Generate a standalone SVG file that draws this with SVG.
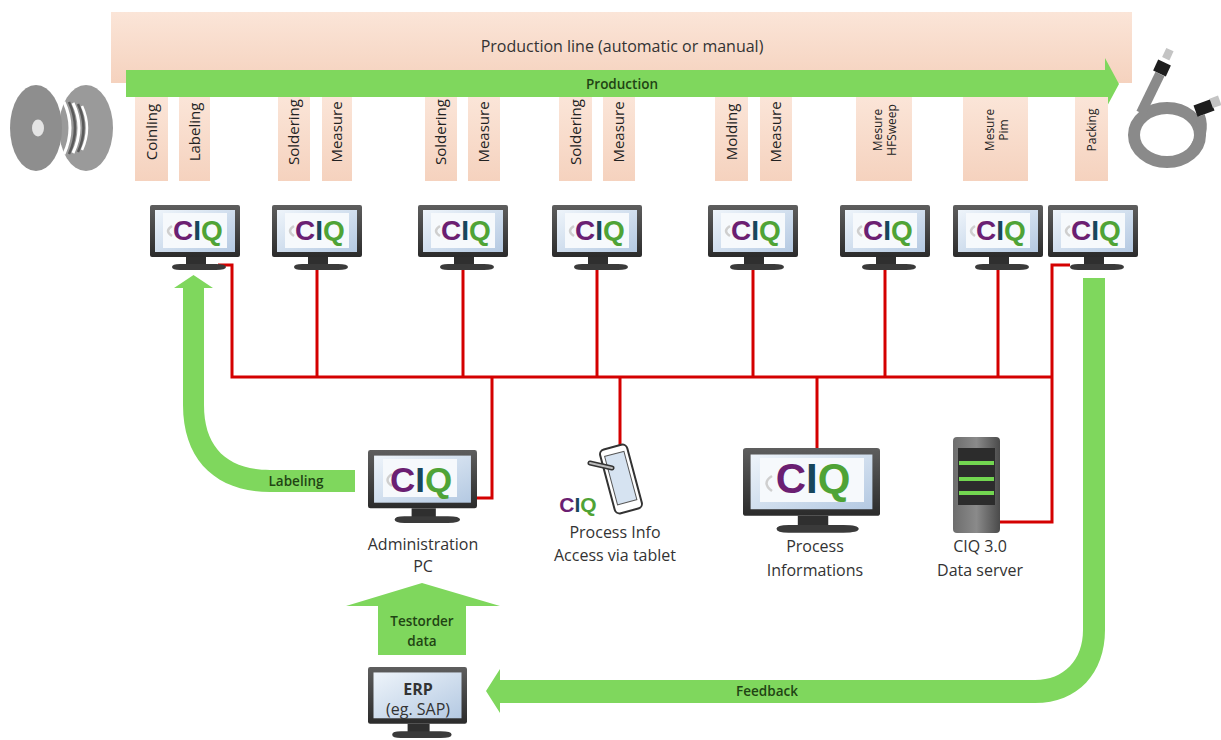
<svg xmlns="http://www.w3.org/2000/svg" xmlns:xlink="http://www.w3.org/1999/xlink" width="1221" height="740" viewBox="0 0 1221 740">
  <style>
    .lbl { font-family: "Open Sans", "Liberation Sans", sans-serif; font-size: 16px; fill: #333; text-anchor: middle; }
    .st { font-family: "Open Sans", "Liberation Sans", sans-serif; font-size: 15px; fill: #222; text-anchor: middle; }
    .st-s { font-family: "Open Sans", "Liberation Sans", sans-serif; font-size: 12px; fill: #222; text-anchor: middle; }
    .flow { font-family: "Open Sans", "Liberation Sans", sans-serif; font-size: 13.5px; font-weight: 600; fill: #1f4414; text-anchor: middle; }
    .ciq { font-family: "Liberation Sans", Arial, sans-serif; font-weight: bold; text-anchor: middle; }
    .c { fill: #6b1f72; }
    .i { fill: #17465c; }
    .q { fill: #4fa336; }
    .box { fill: url(#peachV); }
    .wire { fill: none; stroke: #d40000; stroke-width: 3; }
    .arrow { fill: #7fd75d; }
    .panel { fill: #f6f9fc; }
    .swoosh { fill: none; stroke: #cfcfcf; stroke-width: 2.5; }
  </style>
  <defs>
    <linearGradient id="peachV" x1="0" y1="0" x2="0" y2="1">
      <stop offset="0" stop-color="#fbe5d8"/>
      <stop offset="1" stop-color="#f5d2be"/>
    </linearGradient>
    <linearGradient id="frameG" x1="0" y1="0" x2="0" y2="1">
      <stop offset="0" stop-color="#5e5e5e"/>
      <stop offset="1" stop-color="#2b2b2b"/>
    </linearGradient>
    <linearGradient id="screenG" x1="0" y1="0" x2="1" y2="1">
      <stop offset="0" stop-color="#eef4fa"/>
      <stop offset="1" stop-color="#b4c9e2"/>
    </linearGradient>
    <linearGradient id="serverG" x1="0" y1="0" x2="1" y2="0">
      <stop offset="0" stop-color="#6d6d6d"/>
      <stop offset="0.5" stop-color="#8a8a8a"/>
      <stop offset="1" stop-color="#4a4a4a"/>
    </linearGradient>
    <!-- desktop monitor: bezel, screen, neck and foot -->
    <symbol id="mon" viewBox="0 0 90 66" preserveAspectRatio="none">
      <rect x="0" y="0" width="90" height="52" rx="2" fill="url(#frameG)"/>
      <rect x="5" y="5" width="80" height="42" fill="url(#screenG)"/>
      <rect x="36" y="52" width="20" height="9" fill="#2f2f2f"/>
      <path d="M22 62 Q22 59 30 59 L66 59 Q76 59 76 62 Q76 65 66 65 L30 65 Q22 65 22 62 Z" fill="#3a3a3a"/>
    </symbol>
  </defs>

  <rect width="1221" height="740" fill="#ffffff"/>

  <!-- production line band -->
  <g id="production-line">
    <rect x="111" y="12" width="1021" height="71" fill="url(#peachV)"/>
    <text class="lbl" x="622" y="52">Production line (automatic or manual)</text>
  </g>

  <!-- production flow arrow -->
  <g id="production-arrow">
    <path class="arrow" d="M126 70 L1105 70 L1105 58 L1119 84 L1105 110 L1105 97 L126 97 Z"/>
    <text class="flow" x="622" y="89" font-size="14.5">Production</text>
  </g>

  <!-- process stations -->
  <g id="stations">
    <g id="st-coinling"><rect class="box" x="135" y="97" width="33" height="84"/><text class="st" transform="translate(151.5 132) rotate(-90)" dy="5">Coinling</text></g>
    <g id="st-labeling"><rect class="box" x="179" y="97" width="31" height="84"/><text class="st" transform="translate(194.5 132) rotate(-90)" dy="5">Labeling</text></g>
    <g id="st-soldering1"><rect class="box" x="278" y="97" width="32" height="84"/><text class="st" transform="translate(294 132) rotate(-90)" dy="5">Soldering</text></g>
    <g id="st-measure1"><rect class="box" x="322" y="97" width="30" height="84"/><text class="st" transform="translate(337 132) rotate(-90)" dy="5">Measure</text></g>
    <g id="st-soldering2"><rect class="box" x="425" y="97" width="32" height="84"/><text class="st" transform="translate(441 132) rotate(-90)" dy="5">Soldering</text></g>
    <g id="st-measure2"><rect class="box" x="468" y="97" width="32" height="84"/><text class="st" transform="translate(484 132) rotate(-90)" dy="5">Measure</text></g>
    <g id="st-soldering3"><rect class="box" x="559" y="97" width="33" height="84"/><text class="st" transform="translate(575.5 132) rotate(-90)" dy="5">Soldering</text></g>
    <g id="st-measure3"><rect class="box" x="603" y="97" width="32" height="84"/><text class="st" transform="translate(619 132) rotate(-90)" dy="5">Measure</text></g>
    <g id="st-molding"><rect class="box" x="715" y="97" width="33" height="84"/><text class="st" transform="translate(731.5 132) rotate(-90)" dy="5">Molding</text></g>
    <g id="st-measure4"><rect class="box" x="760" y="97" width="32" height="84"/><text class="st" transform="translate(776 132) rotate(-90)" dy="5">Measure</text></g>
    <g id="st-hfsweep"><rect class="box" x="856" y="97" width="56" height="84"/><text class="st-s" transform="translate(884 130) rotate(-90)"><tspan x="0" dy="-2">Mesure</tspan><tspan x="0" dy="14">HFSweep</tspan></text></g>
    <g id="st-pim"><rect class="box" x="963" y="97" width="65" height="84"/><text class="st-s" transform="translate(995.5 130) rotate(-90)"><tspan x="0" dy="-2">Mesure</tspan><tspan x="0" dy="14">Pim</tspan></text></g>
    <g id="st-packing"><rect class="box" x="1075" y="97" width="33" height="84"/><text class="st-s" transform="translate(1091.5 130) rotate(-90)" dy="4">Packing</text></g>
  </g>

  <!-- cable reel (raw material) -->
  <g id="reel">
    <ellipse cx="86" cy="128" rx="27" ry="43" fill="#9a9a9a"/>
    <ellipse cx="36" cy="128" rx="26" ry="43" fill="#8e8e8e"/>
    <ellipse cx="38" cy="128" rx="6" ry="8.5" fill="#e4e4e4"/>
    <path d="M64 102 Q76 128 64 154" fill="none" stroke="#ffffff" stroke-width="3"/>
    <path d="M69 102 Q81 128 69 154" fill="none" stroke="#5a5a5a" stroke-width="2.5"/>
    <path d="M73 103 Q85 128 73 153" fill="none" stroke="#ffffff" stroke-width="3"/>
    <path d="M78 104 Q89 128 78 152" fill="none" stroke="#5a5a5a" stroke-width="2.5"/>
    <path d="M82 106 Q92 128 82 150" fill="none" stroke="#ffffff" stroke-width="2.5"/>
  </g>

  <!-- finished cable assembly -->
  <g id="cable">
    <ellipse cx="1167" cy="135" rx="33" ry="27" fill="none" stroke="#8a8a8a" stroke-width="12"/>
    <path d="M1141 113 L1160 74" fill="none" stroke="#8a8a8a" stroke-width="10"/>
    <rect x="-7" y="-6" width="14" height="12" fill="#1e1e1e" transform="translate(1162 68) rotate(25)"/>
    <rect x="-4" y="-7" width="8" height="10" fill="#c4c4c4" transform="translate(1167 56) rotate(25)"/>
    <path d="M1192 152 Q1206 132 1200 116" fill="none" stroke="#8a8a8a" stroke-width="10"/>
    <rect x="-9" y="-6" width="18" height="12" fill="#1e1e1e" transform="translate(1204 108) rotate(-20)"/>
    <rect x="-4" y="-5" width="9" height="10" fill="#c4c4c4" transform="translate(1215 102) rotate(-20)"/>
  </g>

  <!-- network wiring -->
  <g id="connectors">
    <path class="wire" d="M218 265 L232 265 L232 377 L1052 377"/>
    <path class="wire" d="M317 268 L317 377"/>
    <path class="wire" d="M463 268 L463 377"/>
    <path class="wire" d="M597 268 L597 377"/>
    <path class="wire" d="M753 268 L753 377"/>
    <path class="wire" d="M885 268 L885 377"/>
    <path class="wire" d="M998 268 L998 377"/>
    <path class="wire" d="M1070 265 L1052 265 L1052 522 L1000 522"/>
    <path class="wire" d="M492 377 L492 498 L477 498"/>
    <path class="wire" d="M620 377 L620 452"/>
    <path class="wire" d="M817 377 L817 450"/>
  </g>

  <!-- station terminals -->
  <g id="pc1"><use href="#mon" x="150" y="205" width="90" height="66"/><rect class="panel" x="163" y="213" width="64" height="35"/><path class="swoosh" d="M172 226 Q164 231 172 236"/><text class="ciq" x="198" y="240" font-size="28"><tspan class="c">C</tspan><tspan class="i">I</tspan><tspan class="q">Q</tspan></text></g>
  <g id="pc2"><use href="#mon" x="272" y="205" width="90" height="66"/><rect class="panel" x="285" y="213" width="64" height="35"/><path class="swoosh" d="M294 226 Q286 231 294 236"/><text class="ciq" x="320" y="240" font-size="28"><tspan class="c">C</tspan><tspan class="i">I</tspan><tspan class="q">Q</tspan></text></g>
  <g id="pc3"><use href="#mon" x="418" y="205" width="90" height="66"/><rect class="panel" x="431" y="213" width="64" height="35"/><path class="swoosh" d="M440 226 Q432 231 440 236"/><text class="ciq" x="466" y="240" font-size="28"><tspan class="c">C</tspan><tspan class="i">I</tspan><tspan class="q">Q</tspan></text></g>
  <g id="pc4"><use href="#mon" x="552" y="205" width="90" height="66"/><rect class="panel" x="565" y="213" width="64" height="35"/><path class="swoosh" d="M574 226 Q566 231 574 236"/><text class="ciq" x="600" y="240" font-size="28"><tspan class="c">C</tspan><tspan class="i">I</tspan><tspan class="q">Q</tspan></text></g>
  <g id="pc5"><use href="#mon" x="708" y="205" width="90" height="66"/><rect class="panel" x="721" y="213" width="64" height="35"/><path class="swoosh" d="M730 226 Q722 231 730 236"/><text class="ciq" x="756" y="240" font-size="28"><tspan class="c">C</tspan><tspan class="i">I</tspan><tspan class="q">Q</tspan></text></g>
  <g id="pc6"><use href="#mon" x="840" y="205" width="90" height="66"/><rect class="panel" x="853" y="213" width="64" height="35"/><path class="swoosh" d="M862 226 Q854 231 862 236"/><text class="ciq" x="888" y="240" font-size="28"><tspan class="c">C</tspan><tspan class="i">I</tspan><tspan class="q">Q</tspan></text></g>
  <g id="pc7"><use href="#mon" x="953" y="205" width="90" height="66"/><rect class="panel" x="966" y="213" width="64" height="35"/><path class="swoosh" d="M975 226 Q967 231 975 236"/><text class="ciq" x="1001" y="240" font-size="28"><tspan class="c">C</tspan><tspan class="i">I</tspan><tspan class="q">Q</tspan></text></g>
  <g id="pc8"><use href="#mon" x="1048" y="205" width="90" height="66"/><rect class="panel" x="1061" y="213" width="64" height="35"/><path class="swoosh" d="M1070 226 Q1062 231 1070 236"/><text class="ciq" x="1096" y="240" font-size="28"><tspan class="c">C</tspan><tspan class="i">I</tspan><tspan class="q">Q</tspan></text></g>

  <!-- labeling flow back to the first station -->
  <g id="labeling-arrow">
    <path class="arrow" d="M355 470 L355 492 L270 492 C218 492 183 462 183 405 L183 288 L174 288 L193.5 275 L213 288 L204 288 L204 405 C204 448 228 470 270 470 Z"/>
    <text class="flow" x="296" y="486">Labeling</text>
  </g>

  <!-- administration PC -->
  <g id="admin-pc">
    <use href="#mon" x="368" y="450" width="109" height="74"/>
    <rect class="panel" x="383" y="459" width="74" height="38"/>
    <path class="swoosh" d="M392 474 Q383 480 392 486"/>
    <text class="ciq" x="421" y="492" font-size="35"><tspan class="c">C</tspan><tspan class="i">I</tspan><tspan class="q">Q</tspan></text>
    <text class="lbl" x="423" y="550">Administration</text>
    <text class="lbl" x="423" y="572">PC</text>
  </g>

  <!-- tablet -->
  <g id="tablet">
    <g transform="translate(621 479) rotate(-15)">
      <rect x="-14" y="-33" width="28" height="66" rx="5" fill="#ffffff" stroke="#333" stroke-width="2"/>
      <rect x="-10" y="-26" width="20" height="50" fill="#d6e3f1" stroke="#555" stroke-width="1"/>
    </g>
    <path d="M590 463 L612 468" fill="none" stroke="#333" stroke-width="5" stroke-linecap="round"/>
    <path d="M590 463 L612 468" fill="none" stroke="#bbb" stroke-width="2" stroke-linecap="round"/>
    <text class="ciq" x="578" y="512" font-size="21"><tspan class="c">C</tspan><tspan class="i">I</tspan><tspan class="q">Q</tspan></text>
    <text class="lbl" x="615" y="538">Process Info</text>
    <text class="lbl" x="615" y="561">Access via tablet</text>
  </g>

  <!-- process information display -->
  <g id="process-display">
    <use href="#mon" x="743" y="448" width="137" height="86"/>
    <rect class="panel" x="760" y="458" width="104" height="44"/>
    <path class="swoosh" d="M772 476 Q761 483 772 491"/>
    <text class="ciq" x="813" y="493" font-size="42"><tspan class="c">C</tspan><tspan class="i">I</tspan><tspan class="q">Q</tspan></text>
    <text class="lbl" x="815" y="552">Process</text>
    <text class="lbl" x="815" y="576">Informations</text>
  </g>

  <!-- data server -->
  <g id="data-server">
    <rect x="953" y="437" width="47" height="96" rx="4" fill="url(#serverG)"/>
    <rect x="958" y="448" width="37" height="57" fill="#2c2c2c"/>
    <rect x="959" y="461" width="35" height="4" fill="#72d650"/>
    <rect x="959" y="477" width="35" height="4" fill="#72d650"/>
    <rect x="959" y="491" width="35" height="4" fill="#72d650"/>
    <text class="lbl" x="980" y="552">CIQ 3.0</text>
    <text class="lbl" x="980" y="576">Data server</text>
  </g>

  <!-- test order data into admin PC -->
  <g id="testorder-arrow">
    <path class="arrow" d="M378 655 L378 606 L346 606 L422 583 L500 606 L466 606 L466 655 Z"/>
    <text class="flow" x="422" y="626">Testorder</text>
    <text class="flow" x="422" y="646">data</text>
  </g>

  <!-- ERP system -->
  <g id="erp">
    <use href="#mon" x="368" y="667" width="99" height="72"/>
    <text class="lbl" x="418" y="695" font-size="20" font-weight="bold" fill="#222">ERP</text>
    <text class="lbl" x="418" y="715" font-size="14">(eg. SAP)</text>
  </g>

  <!-- feedback from packing to ERP -->
  <g id="feedback-arrow">
    <path class="arrow" d="M1105 278 L1105 630 C1105 673 1078 703 1035 703 L500 703 L500 713 L486 691 L500 669 L500 680 L1035 680 C1064 680 1083 660 1083 630 L1083 278 Z"/>
    <text class="flow" x="767" y="696">Feedback</text>
  </g>
</svg>
